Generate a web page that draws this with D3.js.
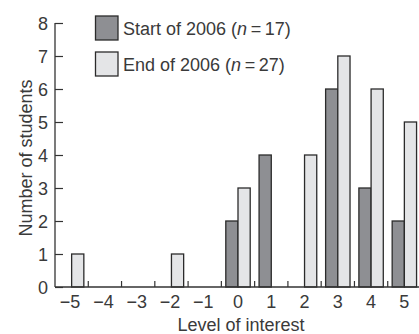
<!DOCTYPE html>
<html><head><meta charset="utf-8">
<script src="https://cdn.jsdelivr.net/npm/d3@7"></script>
<style>body{margin:0;background:#fff}svg{display:block}text{font-family:"Liberation Sans",Arial,sans-serif;fill:#3a3a3a}</style>
</head><body><svg id="c" width="419" height="334"></svg>
<script>
const levels = [-5,-4,-3,-2,-1,0,1,2,3,4,5];
const startValues = [0,0,0,0,0,2,4,0,6,3,2];
const endValues = [1,0,0,1,0,3,0,4,7,6,5];
const yTicks = [0,1,2,3,4,5,6,7,8];
const seriesNames = ["Start of 2006", "End of 2006"];
const seriesN = [17, 27];

(function(){
const svg = d3.select("#c");
const mLeft = 55, mTop = 23, mBottom = 287, mRight = 421;
const fs = 18;
const x = d3.scaleBand().domain(levels).range([mLeft, mRight]).paddingInner(0).paddingOuter(0);
const y = d3.scaleLinear().domain([0, 8]).range([mBottom, mTop]);
const bw = 12.2;
const colors = ["#8e8f93", "#e4e5e7"];
const series = [startValues, endValues];

series.forEach((vals, si) => {
  svg.append("g").selectAll("rect").data(levels.map((l, i) => ({l, v: vals[i]})).filter(d => d.v > 0))
    .join("rect")
    .attr("x", d => x(d.l) + x.bandwidth()/2 - bw + si*bw)
    .attr("y", d => y(d.v))
    .attr("width", bw)
    .attr("height", d => y(0) - y(d.v))
    .attr("fill", colors[si])
    .attr("stroke", "#2b2b2b")
    .attr("stroke-width", 1.3);
});

const ya = svg.append("g").attr("transform", `translate(${mLeft},0)`)
  .call(d3.axisRight(y).tickValues(yTicks).tickSize(8).tickFormat(""));
ya.select(".domain").remove();
ya.selectAll("line").attr("stroke", "#333").attr("stroke-width", 1.2);
svg.append("line").attr("x1", mLeft).attr("x2", mLeft).attr("y1", y(8)).attr("y2", y(0))
  .attr("stroke", "#333").attr("stroke-width", 1.3);
svg.append("g").selectAll("text").data(yTicks).join("text")
  .attr("x", 48).attr("y", d => y(d) + 6.5).attr("text-anchor", "end")
  .attr("font-size", fs).text(d => d);

svg.append("line").attr("x1", mLeft).attr("x2", 419).attr("y1", y(0)).attr("y2", y(0))
  .attr("stroke", "#333").attr("stroke-width", 1.3);
svg.append("g").selectAll("line").data(levels.slice(1)).join("line")
  .attr("x1", d => x(d)).attr("x2", d => x(d)).attr("y1", y(0)).attr("y2", y(0) - 6)
  .attr("stroke", "#333").attr("stroke-width", 1.2);
svg.append("g").selectAll("text").data(levels).join("text")
  .attr("x", d => x(d) + x.bandwidth()/2 + (d < 0 ? -1.5 : 0)).attr("y", 307.5).attr("text-anchor", "middle")
  .attr("font-size", fs).text(d => d < 0 ? "\u2212" + (-d) : d);

svg.append("text").attr("x", 241).attr("y", 331).attr("text-anchor", "middle")
  .attr("font-size", fs).text("Level of interest");
svg.append("text").attr("transform", `translate(31.5,158) rotate(-90)`).attr("text-anchor", "middle")
  .attr("font-size", fs).text("Number of students");

seriesNames.forEach((name, i) => {
  const yy = 16 + i * 36;
  svg.append("rect").attr("x", 95.5).attr("y", yy).attr("width", 22.5).attr("height", 24)
    .attr("fill", colors[i]).attr("stroke", "#2b2b2b").attr("stroke-width", 1.3);
  const t = svg.append("text").attr("x", 123).attr("y", yy + 19).attr("font-size", fs);
  t.append("tspan").text(name + " (");
  t.append("tspan").attr("font-style", "italic").text("n");
  t.append("tspan").text("\u2009=\u2009" + seriesN[i] + ")");
});
})();
</script></body></html>
